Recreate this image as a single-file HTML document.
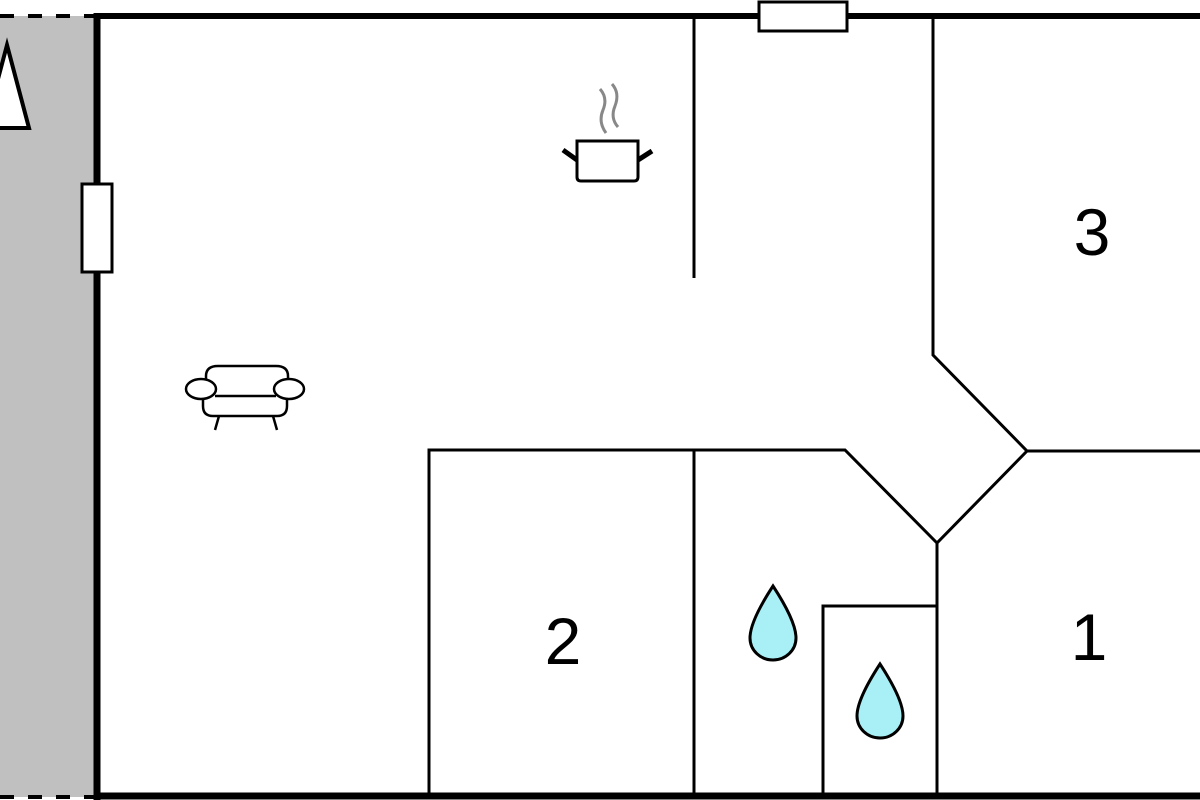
<!DOCTYPE html>
<html><head><style>html,body{margin:0;padding:0;background:#fff;}svg{display:block}</style></head>
<body>
<svg width="1200" height="800" viewBox="0 0 1200 800" xmlns="http://www.w3.org/2000/svg">
<rect x="0" y="16" width="95" height="781" fill="#c0c0c0"/>
<line x1="0" y1="16" x2="95" y2="16" stroke="#000" stroke-width="4" stroke-dasharray="14,14"/>
<line x1="0" y1="797" x2="95" y2="797" stroke="#000" stroke-width="4" stroke-dasharray="14,14"/>
<polygon points="7,45 29,128 -15,128" fill="#fff" stroke="#000" stroke-width="4"/>
<line x1="94" y1="16" x2="1200" y2="16" stroke="#000" stroke-width="6"/>
<line x1="97" y1="13" x2="97" y2="800" stroke="#000" stroke-width="7"/>
<line x1="94" y1="796" x2="1200" y2="796" stroke="#000" stroke-width="7"/>
<rect x="759" y="2" width="88" height="29" fill="#fff" stroke="#000" stroke-width="3"/>
<rect x="82" y="184" width="30" height="88" fill="#fff" stroke="#000" stroke-width="3"/>
<g stroke="#000" stroke-width="3" fill="none">
<line x1="694" y1="16" x2="694" y2="278"/>
<polyline points="933,16 933,355 1027,451 1200,451"/>
<polyline points="1027,451 937,543 937,797"/>
<polyline points="429,797 429,450 845,450 937,543"/>
<line x1="694" y1="450" x2="694" y2="797"/>
<polyline points="823,797 823,606 937,606"/>
</g>
<g font-family="Liberation Sans, sans-serif" font-size="66" text-anchor="middle" fill="#000">
<text x="1092" y="255">3</text>
<text x="563" y="664">2</text>
<text x="1089" y="660">1</text>
</g>
<path d="M773,586 C790,612 796,628 796,638 A23,22 0 0 1 750,638 C750,628 756,612 773,586 Z" fill="#a8f0f6" stroke="#000" stroke-width="3"/>
<path d="M880,664 C897,690 903,706 903,716 A23,22 0 0 1 857,716 C857,706 863,690 880,664 Z" fill="#a8f0f6" stroke="#000" stroke-width="3"/>
<g stroke="#000" stroke-width="3" fill="#fff">
<path d="M577,141 H638 V177 Q638,181 634,181 H581 Q577,181 577,177 Z"/>
<line x1="563" y1="150" x2="577" y2="160" stroke-width="5"/>
<line x1="652" y1="151" x2="638" y2="160" stroke-width="5"/>
</g>
<g stroke="#888" stroke-width="3" fill="none">
<path d="M600,89 Q608,98 603,110 Q598,122 606,133"/>
<path d="M612,84 Q620,93 615,106 Q610,118 618,127"/>
</g>
<g stroke="#000" stroke-width="2.5" fill="#fff">
<path d="M206,392 V376 Q206,366 218,366 H276 Q288,366 288,376 V392"/>
<path d="M203,395 V406 Q203,416 213,416 H277 Q287,416 287,406 V395"/>
<line x1="215" y1="396" x2="276" y2="396"/>
<ellipse cx="201" cy="389" rx="15" ry="10"/>
<ellipse cx="289" cy="389" rx="15" ry="10"/>
<line x1="219" y1="416" x2="215" y2="430"/>
<line x1="273" y1="416" x2="277" y2="430"/>
</g>
</svg>
</body></html>
